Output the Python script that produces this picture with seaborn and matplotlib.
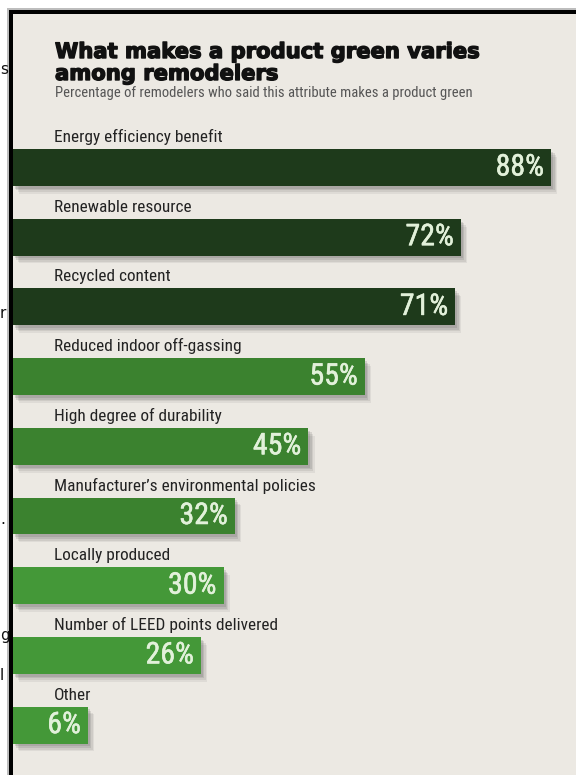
import matplotlib
matplotlib.use("Agg")
import matplotlib.pyplot as plt
import matplotlib.patheffects as pe
import matplotlib.font_manager as fm
from matplotlib.patches import Rectangle
import seaborn as sns
import pandas as pd

# ---- data ----
categories = [
    "Energy efficiency benefit",
    "Renewable resource",
    "Recycled content",
    "Reduced indoor off-gassing",
    "High degree of durability",
    "Manufacturer\u2019s environmental policies",
    "Locally produced",
    "Number of LEED points delivered",
    "Other",
]
values = [88, 72, 71, 55, 45, 32, 30, 26, 6]
bar_colors = ["#1e3a1b", "#1e3a1b", "#1e3a1b",
              "#3b822f", "#3b822f", "#3b822f",
              "#449838", "#449838", "#449838"]
title_lines = ["What makes a product green varies", "among remodelers"]
subtitle = "Percentage of remodelers who said this attribute makes a product green"

df = pd.DataFrame({"category": categories, "value": values})

sns.set_theme(style="white")
plt.rcParams["font.family"] = ["DejaVu Sans"]

# pick a condensed face if one is installed
cond_file = None
prefs = ["LiberationSansNarrow-Regular", "RobotoCondensed-Regular", "DejaVuSansCondensed.ttf",
         "OpenSans_Condensed", "OpenSansCondensed", "NotoSans-Condensed"]
files = [f.fname for f in fm.fontManager.ttflist]
for key in prefs:
    hit = [f for f in files if key in f.replace(" ", "")]
    if hit:
        cond_file = hit[0]
        break
if cond_file is None:
    hit = [f for f in files if ("Condensed" in f or "Narrow" in f)
           and not any(s in f for s in ("Bold", "Oblique", "Italic", "Light", "Black"))]
    cond_file = hit[0] if hit else None

def cprop(size):
    if cond_file:
        return fm.FontProperties(fname=cond_file, size=size)
    return fm.FontProperties(family="DejaVu Sans", size=size)

W, H = 576, 775
fig = plt.figure(figsize=(W / 100, H / 100), dpi=100)
fig.patch.set_facecolor("white")

def fx(px):
    return px / W

def fy(py):
    return 1 - py / H

# panel background and frame
fig.add_artist(Rectangle((fx(13), 0), fx(576 - 13), fy(14), transform=fig.transFigure,
                         facecolor="#ece9e3", edgecolor="none", zorder=0))
fig.add_artist(Rectangle((fx(7), 0), fx(1.5), fy(8), transform=fig.transFigure,
                         facecolor="#bdbdbd", edgecolor="none", zorder=1))
fig.add_artist(Rectangle((fx(7), fy(9.5)), fx(576 - 7), 1.5 / H, transform=fig.transFigure,
                         facecolor="#bdbdbd", edgecolor="none", zorder=1))
fig.add_artist(Rectangle((fx(9), 0), fx(4), fy(10), transform=fig.transFigure,
                         facecolor="black", edgecolor="none", zorder=2))
fig.add_artist(Rectangle((fx(9), fy(14)), fx(576 - 9), 4 / H, transform=fig.transFigure,
                         facecolor="black", edgecolor="none", zorder=2))

# text fragments at the left edge (from the neighbouring page)
for ch, py in [("s", 74), ("r", 318), (".", 524), ("g", 640), ("l", 680)]:
    fig.text(fx(0), fy(py), ch, fontsize=11, color="#111111", ha="left", va="baseline")

# axes: zero of value scale at x=54px, 5.65 px per percent; bar pitch 69.7px
px_per_unit = 5.65
x0_px = 54
left_px, right_px = 13, 572
xmin = (left_px - x0_px) / px_per_unit
xmax = (right_px - x0_px) / px_per_unit
pitch = 69.7
c0 = 167.5
ytop_px = c0 - 0.6 * pitch
ybot_px = c0 + 8.65 * pitch
ax = fig.add_axes([fx(left_px), fy(ybot_px), fx(right_px - left_px), (ybot_px - ytop_px) / H])
ax.set_facecolor("none")

sns.barplot(data=df, x="value", y="category", hue="category", palette=bar_colors,
            orient="h", width=0.53, legend=False, ax=ax, saturation=1)
ax.set_xlim(xmin, xmax)
ax.set_ylim(8.65, -0.6)
ax.axis("off")

shadow = [
    pe.SimplePatchShadow(offset=(1.5, -2.0), shadow_rgbFace=(0.3, 0.3, 0.3), alpha=0.16),
    pe.SimplePatchShadow(offset=(2.5, -3.2), shadow_rgbFace=(0.3, 0.3, 0.3), alpha=0.14),
    pe.SimplePatchShadow(offset=(3.5, -4.4), shadow_rgbFace=(0.35, 0.35, 0.35), alpha=0.12),
    pe.SimplePatchShadow(offset=(4.5, -5.6), shadow_rgbFace=(0.4, 0.4, 0.4), alpha=0.10),
    pe.Normal(),
]
for p in ax.patches:
    w = p.get_width()
    p.set_x(xmin)
    p.set_width(w - xmin)
    p.set_path_effects(shadow)
    p.set_edgecolor("none")

half = 0.53 / 2
val_fx = [pe.withStroke(linewidth=0.4, foreground="#e2f1da")]
for i, (cat, v) in enumerate(zip(categories, values)):
    ax.text(0, i - half - 0.1, cat, fontproperties=cprop(12.4), color="#222222",
            ha="left", va="baseline")
    ax.annotate(f"{v}%", xy=(v, i), xytext=(-5, 0), textcoords="offset points",
                fontproperties=cprop(21.5), color="#e2f1da", ha="right", va="center",
                path_effects=val_fx)

# titles
title_fx = [pe.withStroke(linewidth=1.0, foreground="#111111")]
fig.text(fx(55), fy(58), title_lines[0], fontsize=15.2, fontweight="bold", color="#111111",
         ha="left", va="baseline", path_effects=title_fx)
fig.text(fx(55), fy(80), title_lines[1], fontsize=15.2, fontweight="bold", color="#111111",
         ha="left", va="baseline", path_effects=title_fx)
fig.text(fx(55), fy(97), subtitle, fontproperties=cprop(10.5), color="#555555",
         ha="left", va="baseline")

fig.savefig("out.png", dpi=100)
